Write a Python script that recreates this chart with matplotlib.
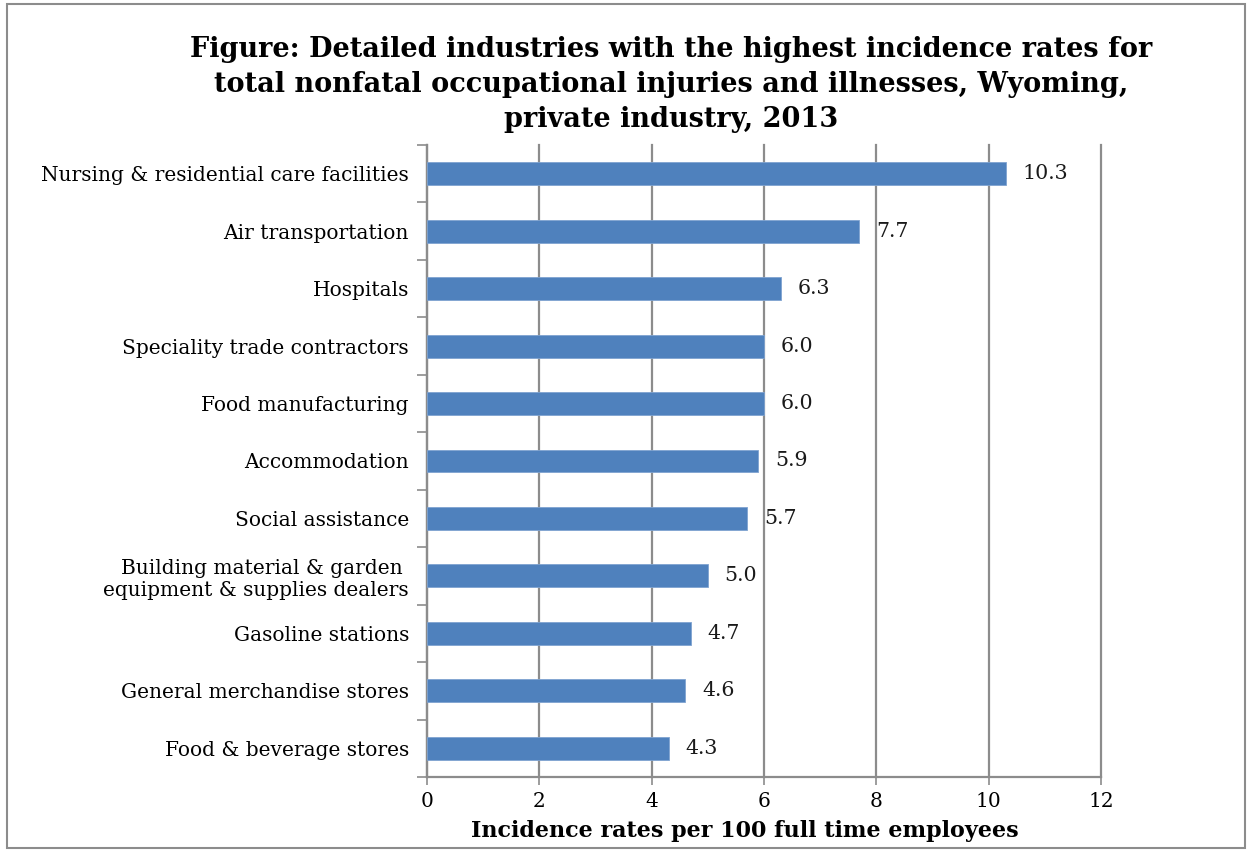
import matplotlib.pyplot as plt
from matplotlib.patches import Rectangle

# Data (top to bottom)
industries = [
    "Nursing & residential care facilities",
    "Air transportation",
    "Hospitals",
    "Speciality trade contractors",
    "Food manufacturing",
    "Accommodation",
    "Social assistance",
    "Building material & garden \nequipment & supplies dealers",
    "Gasoline stations",
    "General merchandise stores",
    "Food & beverage stores",
]
rates = [10.3, 7.7, 6.3, 6.0, 6.0, 5.9, 5.7, 5.0, 4.7, 4.6, 4.3]
x_ticks = [0, 2, 4, 6, 8, 10, 12]

title = ("Figure: Detailed industries with the highest incidence rates for\n"
         "total nonfatal occupational injuries and illnesses, Wyoming,\n"
         "private industry, 2013")
xlabel = "Incidence rates per 100 full time employees"

plt.rcParams['font.family'] = 'DejaVu Serif'

W, H = 1255, 852
fig = plt.figure(figsize=(W / 100, H / 100), dpi=100)

# outer frame
fig.patches.append(Rectangle((7 / W, 4 / H), 1238 / W, 844 / H, transform=fig.transFigure,
                             fill=False, edgecolor='#8c8c8c', linewidth=1.5))

ax = fig.add_axes([427 / W, (H - 777) / H, (1101 - 427) / W, (777 - 145) / H])

n = len(industries)
ypos = list(range(n))
ax.barh(ypos, rates, height=0.4, color='#4F81BD', edgecolor='#7FA3D0', linewidth=0.6, zorder=3)
for y, v in zip(ypos, rates):
    ax.text(v + 0.3, y, f"{v:.1f}", va='center', ha='left', fontsize=14.8, color='#1a1a1a', zorder=4)

ax.set_ylim(n - 0.5, -0.5)
ax.set_xlim(0, 12)
ax.set_xticks(x_ticks)
ax.set_xticklabels([str(t) for t in x_ticks], fontsize=14.5)
ax.set_yticks(ypos)
ax.set_yticklabels(industries, fontsize=14.5, va='center_baseline')
ax.set_yticks([i - 0.5 for i in range(n + 1)], minor=True)
ax.tick_params(axis='y', which='major', length=0, pad=13)
ax.tick_params(axis='y', which='minor', length=7, width=1.2, color='#8c8c8c', direction='out')
ax.tick_params(axis='x', length=6, width=1.2, color='#8c8c8c', direction='out', pad=5)

ax.grid(axis='x', color='#8c8c8c', linewidth=1.6, zorder=0)
for gl in ax.get_xgridlines():
    gl.set_clip_on(False)
for s in ['top', 'right']:
    ax.spines[s].set_visible(False)
for s in ['left', 'bottom']:
    ax.spines[s].set_color('#8c8c8c')
    ax.spines[s].set_linewidth(1.6)

fig.text(671 / W, 1 - 36 / H, title, ha='center', va='top', fontsize=19.5, fontweight='bold',
         linespacing=1.38)
fig.text(745 / W, 1 - 831 / H, xlabel, ha='center', va='center', fontsize=16, fontweight='bold')

fig.savefig('out.png', dpi=100)
